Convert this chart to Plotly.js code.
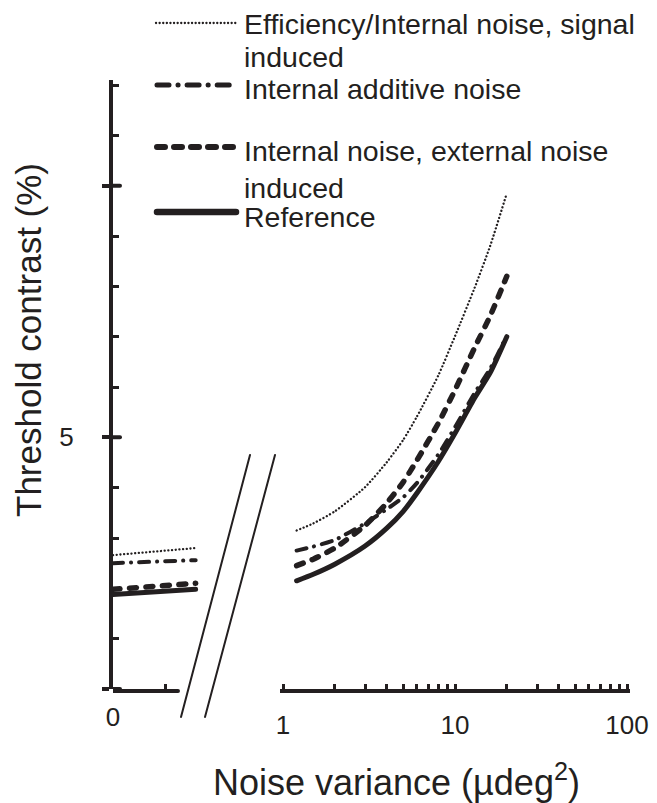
<!DOCTYPE html>
<html>
<head>
<meta charset="utf-8">
<script src="https://cdn.plot.ly/plotly-3.0.1.min.js"></script>
<style>
  html, body { margin: 0; padding: 0; background: #ffffff; }
  #chart { width: 657px; height: 803px; }
</style>
</head>
<body>
<div id="chart"></div>
<script>
// ---------- data ----------
// left segment: noise variance = 0 (linear stub axis, arbitrary units 0..1)
const zeroNoiseX = [0, 0.95];
const effLeft = [2.66, 2.80];
const addLeft = [2.50, 2.56];
const extLeft = [1.98, 2.10];
const refLeft = [1.88, 1.98];

// right segment: noise variance (µdeg²), log axis
const noiseVar = [1.2, 1.5, 2, 3, 4, 5, 6, 8, 10, 13, 16, 20];
const effRight = [3.15, 3.29, 3.53, 4.01, 4.50, 4.95, 5.41, 6.23, 7.01, 7.97, 8.80, 9.85];
const addRight = [2.75, 2.83, 2.96, 3.29, 3.57, 3.81, 4.09, 4.66, 5.20, 5.88, 6.36, 7.02];
const extRight = [2.45, 2.58, 2.80, 3.25, 3.69, 4.11, 4.54, 5.28, 5.94, 6.78, 7.41, 8.20];
const refRight = [2.15, 2.28, 2.48, 2.84, 3.19, 3.53, 3.89, 4.52, 5.08, 5.78, 6.28, 7.00];

const seriesNames = [
  "Efficiency/Internal noise, signal induced",
  "Internal additive noise",
  "Internal noise, external noise induced",
  "Reference"
];
const legendLines = [
  ["Efficiency/Internal noise, signal", "induced"],
  ["Internal additive noise"],
  ["Internal noise, external noise", "induced"],
  ["Reference"]
];
const logTickVals = [1,2,3,4,5,6,7,8,9,10,20,30,40,50,60,70,80,90,100];
const logTickText = ["1","","","","","","","","","10","","","","","","","","","100"];
const zeroTickVals = [0, 0.6];
const zeroTickText = ["0", ""];
const yTickVals = [0, 5, 10];
const yTickText = ["", "5", ""];

// ---------- geometry helpers (pixel -> paper) ----------
const W = 657, H = 803;
const fx = p => p / W;
const fy = p => 1 - p / H;
const INK = "#231f20";

const styles = {
  eff: {color: INK, width: 2.3, dash: "0.1px,3.6px"},
  add: {color: INK, width: 4, dash: "10px,8px,0.1px,8px"},
  ext: {color: INK, width: 5.5, dash: "7px,9.5px"},
  ref: {color: INK, width: 5, dash: "solid"}
};

function tr(x, y, xa, st, name) {
  return {x: x, y: y, xaxis: xa, yaxis: "y", mode: "lines", name: name,
          line: Object.assign({shape: "spline", smoothing: 0.6}, st),
          hoverinfo: "skip", showlegend: false};
}

const data = [
  tr(zeroNoiseX, refLeft, "x", styles.ref, seriesNames[3]),
  tr(zeroNoiseX, extLeft, "x", styles.ext, seriesNames[2]),
  tr(zeroNoiseX, addLeft, "x", styles.add, seriesNames[1]),
  tr(zeroNoiseX, effLeft, "x", styles.eff, seriesNames[0]),
  tr(noiseVar, refRight, "x2", styles.ref, seriesNames[3]),
  tr(noiseVar, extRight, "x2", styles.ext, seriesNames[2]),
  tr(noiseVar, addRight, "x2", styles.add, seriesNames[1]),
  tr(noiseVar, effRight, "x2", styles.eff, seriesNames[0])
];

const tickFont = {family: "Liberation Sans, Arial, sans-serif", size: 26, color: INK};

const shapes = [
  // left (zero-noise) stub of the x axis line
  {type: "line", xref: "x", yref: "paper", x0: 0, x1: 0.747, y0: fy(691), y1: fy(691), line: {color: INK, width: 4}},
  // axis break marks
  {type: "line", xref: "paper", yref: "paper", x0: fx(181), y0: fy(717), x1: fx(250), y1: fy(455), line: {color: INK, width: 2}},
  {type: "line", xref: "paper", yref: "paper", x0: fx(205), y0: fy(717), x1: fx(275), y1: fy(455), line: {color: INK, width: 2}},
  // legend samples
  {type: "line", xref: "paper", yref: "paper", x0: fx(156), y0: fy(23), x1: fx(237), y1: fy(23), line: {color: INK, width: 2.3, dash: "0.1px,3.5px"}},
  {type: "line", xref: "paper", yref: "paper", x0: fx(157), y0: fy(85), x1: fx(236), y1: fy(85), line: {color: INK, width: 5, dash: "12px,9px,0.1px,9px"}},
  {type: "line", xref: "paper", yref: "paper", x0: fx(157), y0: fy(147), x1: fx(236), y1: fy(147), line: {color: INK, width: 6, dash: "8px,9px"}},
  {type: "line", xref: "paper", yref: "paper", x0: fx(157), y0: fy(212), x1: fx(236), y1: fy(212), line: {color: INK, width: 6.5}}
];
// inner half of the major y ticks (they cross the axis line)
yTickVals.forEach(v => {
  shapes.push({type: "line", xref: "paper", yref: "y", x0: fx(113), x1: fx(120), y0: v, y1: v, line: {color: INK, width: 4}});
});

const layout = {
  width: W, height: H,
  margin: {l: 0, r: 0, t: 0, b: 0},
  paper_bgcolor: "#ffffff",
  plot_bgcolor: "rgba(0,0,0,0)",
  showlegend: false,
  xaxis: {
    domain: [fx(113), fx(200)], range: [0, 1], anchor: "y",
    showline: false, showgrid: false, zeroline: false,
    tickmode: "array", tickvals: zeroTickVals, ticktext: zeroTickText,
    ticks: "inside", ticklen: 5, tickwidth: 3, tickcolor: INK,
    tickfont: tickFont, ticklabelstandoff: 10, fixedrange: true
  },
  xaxis2: {
    domain: [fx(280), fx(630)], type: "log", range: [-3/172, 2 + 3/172], anchor: "y",
    showline: true, linewidth: 4, linecolor: INK,
    showgrid: false, zeroline: false,
    tickmode: "array", tickvals: logTickVals, ticktext: logTickText,
    ticks: "inside", ticklen: 5, tickwidth: 3, tickcolor: INK,
    tickfont: tickFont, ticklabelstandoff: 10, fixedrange: true
  },
  yaxis: {
    domain: [fy(689), fy(80)], range: [0, 12.1], anchor: "x",
    showline: true, linewidth: 4, linecolor: INK,
    showgrid: false, zeroline: false,
    tickmode: "array", tickvals: yTickVals, ticktext: yTickText,
    ticks: "outside", ticklen: 7, tickwidth: 4, tickcolor: INK,
    minor: {tickmode: "linear", tick0: 0, dtick: 1, ticks: "inside", ticklen: 6, tickwidth: 3, tickcolor: INK},
    tickfont: tickFont, ticklabelstandoff: 23, fixedrange: true
  },
  shapes: shapes,
  annotations: []
};

const legFont = {family: "Liberation Sans, Arial, sans-serif", size: 28.5, color: INK};
const legendRowsY = [[24, 57], [88.5], [151, 187.5], [217]];
legendLines.forEach((rows, i) => {
  rows.forEach((txt, j) => {
    layout.annotations.push({
      xref: "paper", yref: "paper", x: fx(242), y: fy(legendRowsY[i][j]),
      xanchor: "left", yanchor: "middle", showarrow: false,
      text: txt, font: legFont
    });
  });
});
// axis titles
layout.annotations.push({
  xref: "paper", yref: "paper", x: fx(396), y: fy(780), xanchor: "center", yanchor: "middle",
  showarrow: false, text: "Noise variance (µdeg<sup>2</sup>)",
  font: {family: "Liberation Sans, Arial, sans-serif", size: 36, color: INK}
});
layout.annotations.push({
  xref: "paper", yref: "paper", x: fx(28), y: fy(340), xanchor: "center", yanchor: "middle",
  showarrow: false, textangle: -90, text: "Threshold contrast (%)",
  font: {family: "Liberation Sans, Arial, sans-serif", size: 35, color: INK}
});

Plotly.newPlot("chart", data, layout, {staticPlot: true, displayModeBar: false}).then(() => {
  document.querySelectorAll("#chart .scatterlayer path.js-line").forEach(p => {
    p.style.strokeLinecap = "round";
  });
  document.querySelectorAll("#chart .shapelayer path").forEach(p => {
    p.style.strokeLinecap = "round";
  });
});
</script>
</body>
</html>
